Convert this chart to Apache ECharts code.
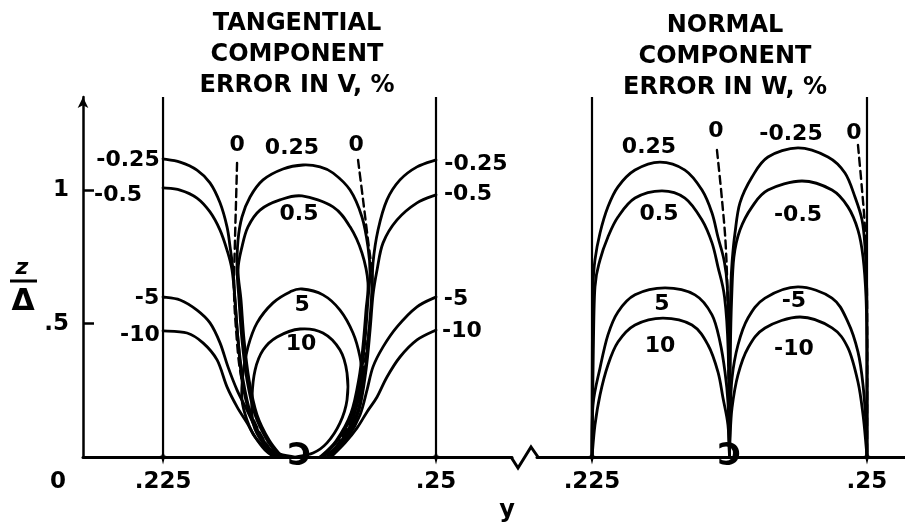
<!DOCTYPE html>
<html>
<head>
<meta charset="utf-8">
<script src="https://cdn.jsdelivr.net/npm/echarts@6/dist/echarts.min.js"></script>
<style>
  html, body { margin: 0; padding: 0; background: #fff; }
  #chart { width: 905px; height: 526px; }
</style>
</head>
<body>
<div id="chart"></div>
<script>
// Tick values
const yTicks = [0.225, 0.25];
const zTicks = [0.5, 1];
const panelEdges = [0.225, 0.25];
const edgeTop = 1.35;

// ---- Tangential component: error in V, % (contours as [y, z/Δ]) ----
const tanNeg025L = [[0.225,1.118],[0.22656,1.106],[0.22811,1.076],[0.22930,1.028],[0.23022,0.953],[0.23086,0.863],[0.23114,0.788],[0.23141,0.701],[0.23159,0.589],[0.23187,0.439],[0.23223,0.289],[0.23297,0.158],[0.23407,0.064],[0.23526,0]];
const tanNeg05L = [[0.225,1.009],[0.22656,1.001],[0.22811,0.971],[0.22930,0.919],[0.23022,0.851],[0.23086,0.776],[0.23132,0.701],[0.23159,0.589],[0.23187,0.439],[0.23233,0.289],[0.23306,0.158],[0.23416,0.064],[0.23535,0]];
const tanNeg025R = [[0.25,1.114],[0.24826,1.088],[0.24670,1.039],[0.24551,0.964],[0.24469,0.851],[0.24423,0.728],[0.24414,0.626],[0.24387,0.476],[0.24350,0.326],[0.24286,0.176],[0.24167,0.075],[0.24011,0]];
const tanNeg05R = [[0.25,0.983],[0.24826,0.953],[0.24643,0.889],[0.24515,0.803],[0.24460,0.701],[0.24423,0.608],[0.24396,0.476],[0.24359,0.326],[0.24295,0.176],[0.24176,0.075],[0.24020,0]];
const tanPos025 = [[0.23571,0],[0.23452,0.064],[0.23343,0.158],[0.23269,0.289],[0.23223,0.439],[0.23196,0.589],[0.23178,0.701],[0.23187,0.814],[0.23223,0.900],[0.23297,0.975],[0.23416,1.039],[0.23599,1.080],[0.23782,1.095],[0.23938,1.088],[0.24057,1.065],[0.24213,1.001],[0.24322,0.900],[0.24377,0.788],[0.24396,0.690],[0.24377,0.589],[0.24350,0.439],[0.24313,0.308],[0.24240,0.169],[0.24103,0.064],[0.23956,0]];
const tanPos05 = [[0.23590,0],[0.23471,0.064],[0.23361,0.158],[0.23288,0.289],[0.23242,0.439],[0.23214,0.589],[0.23187,0.701],[0.23223,0.788],[0.23278,0.863],[0.23388,0.926],[0.23571,0.964],[0.23773,0.979],[0.24057,0.938],[0.24213,0.863],[0.24322,0.765],[0.24377,0.653],[0.24359,0.551],[0.24332,0.420],[0.24295,0.296],[0.24222,0.165],[0.24084,0.060],[0.23938,0]];
const tanNeg5L = [[0.225,0.600],[0.22656,0.589],[0.22811,0.551],[0.22930,0.503],[0.23022,0.428],[0.23095,0.338],[0.23178,0.251],[0.23269,0.176],[0.23370,0.090],[0.23480,0.026],[0.23544,0]];
const tanNeg10L = [[0.225,0.473],[0.22720,0.465],[0.22866,0.428],[0.22995,0.364],[0.23086,0.263],[0.23178,0.188],[0.23269,0.128],[0.23343,0.075],[0.23434,0.026],[0.23517,0]];
const tanNeg5R = [[0.25,0.600],[0.24826,0.563],[0.24643,0.488],[0.24515,0.413],[0.24423,0.338],[0.24368,0.251],[0.24304,0.158],[0.24194,0.075],[0.24029,0]];
const tanNeg10R = [[0.25,0.476],[0.24826,0.439],[0.24670,0.375],[0.24551,0.300],[0.24460,0.225],[0.24368,0.169],[0.24277,0.109],[0.24167,0.053],[0.24039,0]];
const tanPos5 = [[0.23571,0],[0.23462,0.026],[0.23343,0.075],[0.23269,0.139],[0.23223,0.214],[0.23233,0.315],[0.23278,0.413],[0.23361,0.503],[0.23507,0.578],[0.23663,0.619],[0.23773,0.630],[0.23965,0.608],[0.24121,0.551],[0.24240,0.465],[0.24304,0.375],[0.24322,0.300],[0.24277,0.195],[0.24194,0.101],[0.24057,0.026],[0.23938,0]];
const tanPos10 = [[0.23709,0],[0.23544,0.015],[0.23416,0.053],[0.23324,0.128],[0.23315,0.225],[0.23343,0.326],[0.23416,0.401],[0.23544,0.450],[0.23755,0.480],[0.23965,0.465],[0.24121,0.401],[0.24185,0.315],[0.24185,0.214],[0.24121,0.128],[0.24002,0.053],[0.23874,0.015],[0.23709,0]];
const tanZeroL = [[0.23178,1.103],[0.23169,0.964],[0.23159,0.814],[0.23150,0.626],[0.23169,0.476],[0.23205,0.326],[0.23278,0.195],[0.23388,0.090],[0.23526,0]];
const tanZeroR = [[0.24286,1.114],[0.24332,0.964],[0.24377,0.814],[0.24414,0.683],[0.24405,0.551],[0.24368,0.420],[0.24313,0.270],[0.24222,0.139],[0.24084,0.038],[0.23993,0]];

// ---- Normal component: error in W, % ----
const nrmPos025 = [[0.225,0],[0.22503,0.40],[0.22509,0.638],[0.22527,0.739],[0.22573,0.840],[0.22645,0.938],[0.22736,1.013],[0.22891,1.076],[0.23118,1.106],[0.23345,1.076],[0.23500,1.001],[0.23591,0.915],[0.23645,0.825],[0.23700,0.739],[0.23730,0.638],[0.23746,0.40],[0.2375,0]];
const nrmPos05 = [[0.225,0],[0.22512,0.40],[0.22527,0.638],[0.22573,0.739],[0.22645,0.825],[0.22736,0.900],[0.22891,0.971],[0.23136,0.998],[0.23345,0.971],[0.23500,0.889],[0.23591,0.803],[0.23645,0.713],[0.23705,0.600],[0.23738,0.40],[0.2375,0]];
const nrmPos5 = [[0.225,0],[0.22509,0.195],[0.22573,0.334],[0.22645,0.458],[0.22736,0.544],[0.22891,0.608],[0.23164,0.634],[0.23436,0.608],[0.23591,0.533],[0.23664,0.431],[0.23709,0.319],[0.23736,0.206],[0.23745,0.071],[0.2375,0]];
const nrmPos10 = [[0.225,0],[0.22527,0.120],[0.22573,0.233],[0.22645,0.345],[0.22736,0.431],[0.22891,0.495],[0.23145,0.521],[0.23409,0.495],[0.23555,0.420],[0.23645,0.319],[0.23691,0.221],[0.23736,0.120],[0.2375,0]];
const nrmNeg025 = [[0.2375,0],[0.23753,0.40],[0.23762,0.638],[0.23775,0.739],[0.23800,0.840],[0.23845,0.953],[0.23955,1.050],[0.24100,1.125],[0.24373,1.159],[0.24645,1.125],[0.24800,1.065],[0.24891,0.975],[0.24955,0.889],[0.24982,0.788],[0.24997,0.638],[0.25,0.40],[0.25,0]];
const nrmNeg05 = [[0.2375,0],[0.23758,0.40],[0.23770,0.600],[0.23790,0.750],[0.23845,0.851],[0.23955,0.938],[0.24100,1.001],[0.24409,1.035],[0.24682,1.001],[0.24827,0.938],[0.24918,0.851],[0.24964,0.750],[0.24991,0.600],[0.25,0.40],[0.25,0]];
const nrmNeg5 = [[0.2375,0],[0.23755,0.146],[0.23773,0.296],[0.23827,0.420],[0.23918,0.521],[0.24073,0.596],[0.24373,0.638],[0.24682,0.596],[0.24827,0.506],[0.24918,0.394],[0.24964,0.270],[0.24991,0.120],[0.25,0]];
const nrmNeg10 = [[0.2375,0],[0.23755,0.071],[0.23773,0.184],[0.23827,0.308],[0.23918,0.409],[0.24073,0.484],[0.24391,0.525],[0.24682,0.484],[0.24827,0.409],[0.24918,0.281],[0.24964,0.158],[0.24991,0.045],[0.25,0]];
const nrmZeroMid = [[0.23636,1.151],[0.23682,0.964],[0.23718,0.776],[0.23736,0.514],[0.2375,0]];
const nrmZeroEdge = [[0.24918,1.170],[0.24955,1.001],[0.24982,0.851],[0.25,0.589],[0.25,0]];

// Contour labels: [y, z/Δ, text]
const tanLabels = [
  [0.22179,1.114,'-0.25'],[0.22088,0.983,'-0.5'],[0.23178,1.170,'0'],[0.23681,1.159,'0.25'],
  [0.24268,1.170,'0'],[0.23745,0.911,'0.5'],[0.25366,1.099,'-0.25'],[0.25293,0.986,'-0.5'],
  [0.22353,0.596,'-5'],[0.22289,0.458,'-10'],[0.23773,0.570,'5'],[0.23764,0.424,'10'],
  [0.25183,0.593,'-5'],[0.25238,0.473,'-10']
];
const nrmLabels = [
  [0.23018,1.163,'0.25'],[0.23109,0.911,'0.5'],[0.23627,1.223,'0'],[0.24309,1.211,'-0.25'],
  [0.24882,1.215,'0'],[0.24373,0.908,'-0.5'],[0.23136,0.574,'5'],[0.23118,0.416,'10'],
  [0.24336,0.585,'-5'],[0.24336,0.405,'-10']
];
const cuspMarks = [[0.2375, 0, 'Ↄ']];

const FONT = 'DejaVu Sans';
const INK = '#000';

// Smooth curve through the points (Catmull-Rom as cubic Béziers),
// positioned by the axis scales of the given grid.
function contour(points, g, dashed) {
  return {
    type: 'custom', xAxisIndex: g, yAxisIndex: g, silent: true, z: 3,
    data: points, encode: { x: 0, y: 1 }, clip: false,
    renderItem: (params, api) => {
      if (params.dataIndex !== 0) return null;
      const p = points.map(d => api.coord(d));
      let d = 'M' + p[0][0] + ',' + p[0][1];
      for (let i = 0; i < p.length - 1; i++) {
        const p0 = p[i - 1] || p[i], p1 = p[i], p2 = p[i + 1], p3 = p[i + 2] || p[i + 1];
        const c1 = [p1[0] + (p2[0] - p0[0]) / 6, p1[1] + (p2[1] - p0[1]) / 6];
        const c2 = [p2[0] - (p3[0] - p1[0]) / 6, p2[1] - (p3[1] - p1[1]) / 6];
        d += 'C' + c1[0] + ',' + c1[1] + ' ' + c2[0] + ',' + c2[1] + ' ' + p2[0] + ',' + p2[1];
      }
      return {
        type: 'path', shape: { pathData: d },
        style: { fill: null, stroke: INK, lineWidth: dashed ? 2.4 : 2.8,
          lineDash: dashed ? [8, 5] : null, lineJoin: 'round', lineCap: 'round' }
      };
    }
  };
}
function edgeLines(g) {
  return panelEdges.map(v => ({
    type: 'line', xAxisIndex: g, yAxisIndex: g, symbol: 'none', silent: true, z: 2,
    data: [[v, 0], [v, edgeTop]],
    lineStyle: { color: INK, width: 2.2 }
  }));
}
function stars(g) {
  return {
    type: 'scatter', xAxisIndex: g, yAxisIndex: g, silent: true, z: 5,
    symbol: 'path://M0,5 L4,4 L5,0 L6,4 L10,5 L6,6 L5,10 L4,6 Z',
    symbolSize: 15, itemStyle: { color: INK, opacity: 1 },
    data: panelEdges.map(v => [v, 0])
  };
}
function textMarks(data, g, size, weight) {
  return {
    type: 'scatter', xAxisIndex: g, yAxisIndex: g, silent: true, z: 6,
    symbolSize: 0, data: data, itemStyle: { opacity: 1 },
    label: {
      show: true, position: 'inside', formatter: p => p.data[2], opacity: 1,
      color: INK, fontFamily: FONT, fontSize: size, fontWeight: weight
    }
  };
}
const dotless = v => String(v).replace(/^0(?=\.)/, '');
const tickLabel = {
  customValues: yTicks, formatter: dotless, margin: 14,
  color: INK, fontFamily: FONT, fontSize: 23, fontWeight: 'bold'
};

const tanSeries = [
  contour(tanNeg025L, 0), contour(tanNeg05L, 0), contour(tanNeg025R, 0), contour(tanNeg05R, 0),
  contour(tanPos025, 0), contour(tanPos05, 0), contour(tanNeg5L, 0), contour(tanNeg10L, 0),
  contour(tanNeg5R, 0), contour(tanNeg10R, 0), contour(tanPos5, 0), contour(tanPos10, 0),
  contour(tanZeroL, 0, true), contour(tanZeroR, 0, true)
];
const nrmSeries = [
  contour(nrmPos025, 1), contour(nrmPos05, 1), contour(nrmPos5, 1), contour(nrmPos10, 1),
  contour(nrmNeg025, 1), contour(nrmNeg05, 1), contour(nrmNeg5, 1), contour(nrmNeg10, 1),
  contour(nrmZeroMid, 1, true), contour(nrmZeroEdge, 1, true)
];

const chart = echarts.init(document.getElementById('chart'), null, { renderer: 'canvas' });
chart.setOption({
  animation: false,
  backgroundColor: '#fff',
  grid: [
    { left: 83, top: 97, width: 429, height: 360 },
    { left: 537, top: 97, width: 368, height: 360 }
  ],
  xAxis: [
    { gridIndex: 0, type: 'value', min: 0.21767, max: 0.25696,
      axisLine: { show: true, onZero: false, lineStyle: { color: INK, width: 3 } },
      axisTick: { show: false }, splitLine: { show: false }, axisLabel: tickLabel },
    { gridIndex: 1, type: 'value', min: 0.22, max: 0.253455,
      axisLine: { show: true, onZero: false, lineStyle: { color: INK, width: 3 } },
      axisTick: { show: false }, splitLine: { show: false }, axisLabel: tickLabel }
  ],
  yAxis: [
    { gridIndex: 0, type: 'value', min: 0, max: edgeTop,
      axisLine: { show: true, symbol: ['none', 'arrow'], symbolSize: [8, 11],
        lineStyle: { color: INK, width: 2.5 } },
      axisTick: { show: true, inside: true, length: 11, customValues: zTicks,
        lineStyle: { color: INK, width: 2.5 } },
      splitLine: { show: false },
      axisLabel: { customValues: zTicks, formatter: dotless, margin: 14,
        color: INK, fontFamily: FONT, fontSize: 23, fontWeight: 'bold' } },
    { gridIndex: 1, type: 'value', min: 0, max: edgeTop, show: false }
  ],
  series: [
    ...edgeLines(0), ...edgeLines(1),
    ...tanSeries, ...nrmSeries,
    stars(0), stars(1),
    textMarks(tanLabels, 0, 22, 'bold'),
    textMarks(nrmLabels, 1, 22, 'bold'),
    textMarks(cuspMarks, 0, 32, 'bold'),
    textMarks(cuspMarks, 1, 32, 'bold')
  ],
  graphic: [
    { type: 'text', x: 297, y: 8, silent: true,
      style: { text: 'TANGENTIAL\nCOMPONENT\nERROR IN V, %', fill: INK, font: 'bold 24px "DejaVu Sans"',
        textAlign: 'center', textVerticalAlign: 'top', lineHeight: 31 } },
    { type: 'text', x: 725, y: 10, silent: true,
      style: { text: 'NORMAL\nCOMPONENT\nERROR IN W, %', fill: INK, font: 'bold 24px "DejaVu Sans"',
        textAlign: 'center', textVerticalAlign: 'top', lineHeight: 31 } },
    // axis name z/Δ
    { type: 'text', x: 22, y: 268, silent: true,
      style: { text: 'z', fill: INK, font: 'bold italic 22px "DejaVu Sans"', textAlign: 'center', textVerticalAlign: 'middle' } },
    { type: 'line', silent: true, shape: { x1: 10, y1: 281, x2: 37, y2: 281 },
      style: { stroke: INK, lineWidth: 3 } },
    { type: 'text', x: 23, y: 302, silent: true,
      style: { text: 'Δ', fill: INK, font: 'bold 30px "DejaVu Sans"', textAlign: 'center', textVerticalAlign: 'middle' } },
    // origin and axis name y
    { type: 'text', x: 58, y: 482, silent: true,
      style: { text: '0', fill: INK, font: 'bold 23px "DejaVu Sans"', textAlign: 'center', textVerticalAlign: 'middle' } },
    { type: 'text', x: 507, y: 511, silent: true,
      style: { text: 'y', fill: INK, font: 'bold 24px "DejaVu Sans"', textAlign: 'center', textVerticalAlign: 'middle' } },
    // axis break
    { type: 'polyline', silent: true,
      shape: { points: [[511, 457], [518, 468], [531, 447], [538, 457]] },
      style: { stroke: INK, lineWidth: 3, fill: null } }
  ]
});
</script>
</body>
</html>
